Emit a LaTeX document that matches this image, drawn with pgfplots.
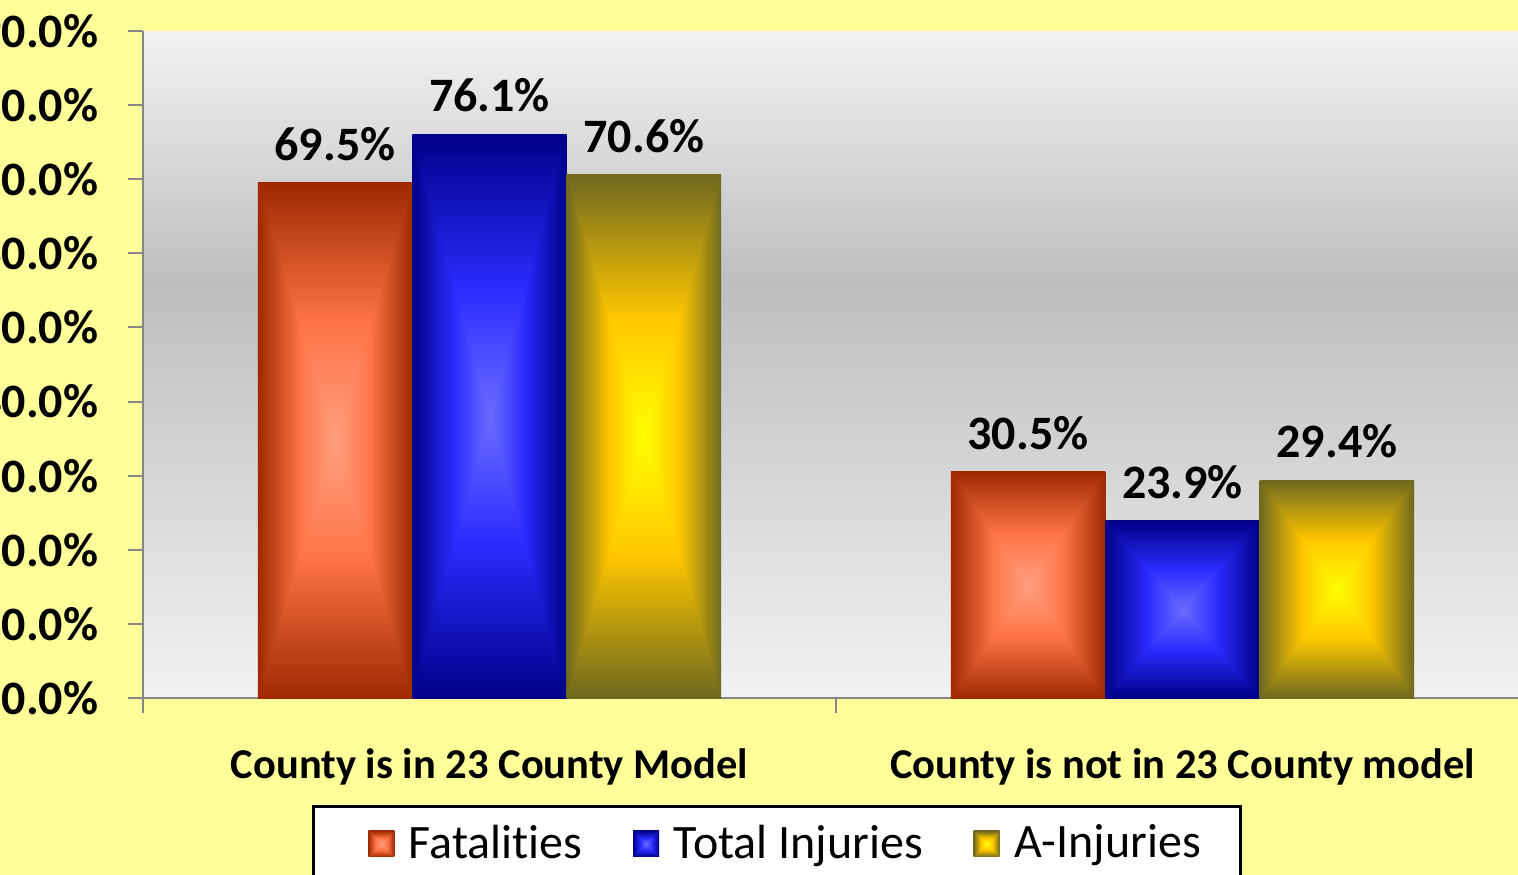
\documentclass[border=0pt]{standalone}
\usepackage{fontspec}
\setmainfont{Carlito}[Ligatures={NoCommon}]
\usepackage{pgfplots}
\pgfplotsset{compat=1.18}

\definecolor{bgyellow}{HTML}{FFFF99}
\definecolor{axgray}{HTML}{868686}
\definecolor{bgA}{HTML}{F2F2F2}
\definecolor{bgB}{HTML}{BEBEBE}

\pgfdeclareverticalshading{bgshade}{100bp}{color(0bp)=(bgA); color(25bp)=(bgA); color(56bp)=(bgB); color(75bp)=(bgA); color(100bp)=(bgA)}

\pgfdeclarefunctionalshading{fatalshade}{\pgfpoint{-50bp}{-50bp}}{\pgfpoint{50bp}{50bp}}{}{
abs exch abs 2 copy lt {exch} if pop 25 div dup 1 gt {pop 1} if
dup 0.45 lt {0.45 div dup 0 mul 1 add exch dup -0.16 mul 0.62 add exch -0.22 mul 0.50 add}
{0.45 sub 0.55 div dup -0.38 mul 1 add exch dup -0.30 mul 0.46 add exch -0.28 mul 0.28 add} ifelse
}
\pgfdeclarefunctionalshading{blueshade}{\pgfpoint{-50bp}{-50bp}}{\pgfpoint{50bp}{50bp}}{}{
abs exch abs 2 copy lt {exch} if pop 25 div dup 1 gt {pop 1} if
dup 0.45 lt {0.45 div dup -0.25 mul 0.42 add exch dup -0.25 mul 0.42 add exch 0 mul 1 add}
{0.45 sub 0.55 div dup -0.17 mul 0.17 add exch dup -0.17 mul 0.17 add exch -0.47 mul 1 add} ifelse
}
\pgfdeclarefunctionalshading{goldshade}{\pgfpoint{-50bp}{-50bp}}{\pgfpoint{50bp}{50bp}}{}{
abs exch abs 2 copy lt {exch} if pop 25 div dup 1 gt {pop 1} if
dup 0.45 lt {0.45 div dup 0 mul 1 add exch dup -0.22 mul 1 add exch 0 mul 0 add}
{0.45 sub 0.55 div dup -0.57 mul 1 add exch dup -0.37 mul 0.78 add exch 0.12 mul 0 add} ifelse
}

\newcommand\chartfont{\fontsize{14.4pt}{17pt}\selectfont}
\newcommand\catfont{\fontsize{12.75pt}{15pt}\selectfont}

\begin{document}
\begin{tikzpicture}[x=0.3pt,y=0.3pt]
\path[use as bounding box] (-143,-177) rectangle (1375,698);
\clip (-143,-177) rectangle (1375,698);
\fill[bgyellow] (-143,-177) rectangle (1375,698);
\begin{axis}[
  at={(0,0)}, anchor=south west,
  scale only axis,
  width=415.8pt, height=200.1pt,
  xmin=-0.5, xmax=1.5, ymin=0, ymax=90,
  axis background/.style={shading=bgshade},
  axis x line*=bottom, axis y line*=left,
  axis line style={draw=axgray, line width=0.6pt},
  tick style={draw=axgray, line width=0.6pt},
  tick align=outside,
  major tick length=4.4pt,
  ytick={0,10,...,90},
  /pgf/number format/assume math mode=true,
  yticklabel={\pgfmathprintnumber[fixed,fixed zerofill,precision=1]{\tick}\%},
  yticklabel style={font=\chartfont\bfseries, xshift=-5.5pt},
  xtick={-0.5,0.5,1.5},
  xticklabels={},
  extra x ticks={0,1},
  extra x tick labels={County is in 23 County Model, County is not in 23 County model},
  extra x tick style={major tick length=0pt, xticklabel style={font=\catfont\bfseries, yshift=-11.8pt}},
  ybar=0pt,
  bar width=0.2229,
  nodes near coords={\pgfmathprintnumber[fixed,fixed zerofill,precision=1]{\pgfplotspointmeta}\%},
  nodes near coords style={font=\chartfont\bfseries, text=black, yshift=3pt},
  legend columns=3,
  legend style={at={(0.4574,-0.1604)}, anchor=north, draw=black, line width=0.9pt, fill=white,
    font=\chartfont, inner xsep=9.9pt, inner ysep=3.5pt,
    /tikz/every even column/.append style={column sep=6.6pt}},
  legend image code/.code={\path (0pt,0pt) -- (16.8pt,0pt);
     \path[#1, draw=none] (6.6pt,-3.9pt) rectangle (14.4pt,3.9pt);},
]
\addplot[shading=fatalshade, draw=none, bar shift=-0.2229] coordinates {(0,69.5)};
\addplot[shading=blueshade, draw=none, bar shift=0] coordinates {(0,76.1)};
\addplot[shading=goldshade, draw=none, bar shift=0.2229] coordinates {(0,70.6)};
\addplot[shading=fatalshade, draw=none, bar shift=-0.2229, forget plot] coordinates {(1,30.5)};
\addplot[shading=blueshade, draw=none, bar shift=0, forget plot] coordinates {(1,23.9)};
\addplot[shading=goldshade, draw=none, bar shift=0.2229, forget plot] coordinates {(1,29.4)};
\legend{Fatalities, Total Injuries, A-Injuries}
\end{axis}
\end{tikzpicture}
\end{document}
